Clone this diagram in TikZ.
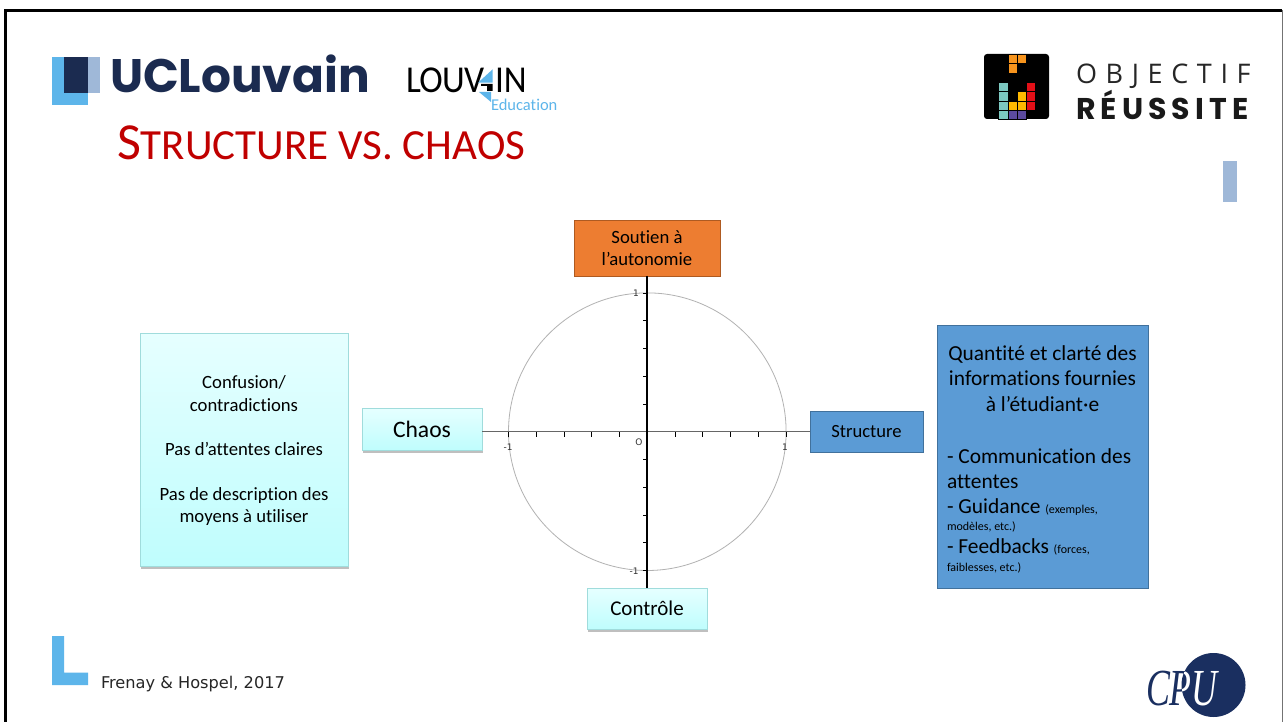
\documentclass[tikz,border=0pt]{standalone}
\usepackage{fontspec}
\setmainfont{Carlito}[Ligatures={NoCommon}]
\newfontfamily\popfont{Poppins}
\newfontfamily\verdfont{DejaVu Sans}
\newfontfamily\serifit{Liberation Serif}
\newfontfamily\objlight[LetterSpace=32]{Open Sans}
\newfontfamily\objbold[LetterSpace=17]{Poppins}
\usetikzlibrary{shadows,calc}
\definecolor{navy}{HTML}{1B2B50}
\definecolor{cpunavy}{HTML}{1A2F60}
\definecolor{skyb}{HTML}{5DB5EA}
\definecolor{paleb}{HTML}{9FB8D8}
\definecolor{titlered}{HTML}{C00000}
\definecolor{orangeb}{HTML}{ED7D31}
\definecolor{oranged}{HTML}{AE5A21}
\definecolor{blueb}{HTML}{5B9BD5}
\definecolor{blued}{HTML}{41719C}
\definecolor{cyand}{HTML}{A0DCDC}
\definecolor{cyantop}{HTML}{E6FFFF}
\definecolor{cyanbot}{HTML}{BFFDFD}
\newcommand{\fs}[2]{\fontsize{#1}{#2}\selectfont}
\tikzset{
  every node/.style={inner sep=0pt,outer sep=0pt},
  box/.style={draw,line width=0.9pt,minimum width=#1,anchor=north west,align=center},
  cyanbox/.style={box=#1,draw=cyand,top color=cyantop,bottom color=cyanbot,
    drop shadow={shadow xshift=1pt,shadow yshift=-2.5pt,fill=black,opacity=.25}},
  bluebox/.style={box=#1,draw=blued,fill=blueb},
  orbox/.style={box=#1,draw=oranged,fill=orangeb},
  tick/.style={black,line width=0.8pt},
  lab/.style={font=\verdfont\fs{9}{9},text=black!80},
  cell/.style={draw=black,line width=0.35pt},
  cpu/.style={anchor=base west,font=\serifit\itshape\fs{52}{52},xscale=0.69}
}
\begin{document}
\begin{tikzpicture}[x=1pt,y=-1pt]
\useasboundingbox (0,0) rectangle (1283,722);
\fill[white] (0,0) rectangle (1283,722);
% frame
\draw[black,line width=2.5pt] (5.5,722) -- (5.5,10.5) -- (1282,10.5);
\draw[black!55,line width=1pt] (1282,10.5) -- (1282,722);
% UCLouvain logo
\fill[skyb] (52,57) rectangle (88,105);
\fill[paleb] (64,57) rectangle (100,93);
\fill[navy] (64,57) rectangle (88,93);
\node[anchor=base west,text=navy,font=\popfont\bfseries\fs{47}{47}] (ucl) at (110,93) {UCLouvain};
% Louvain Education logo
\node[anchor=base west,font=\fs{38}{38}\addfontfeature{LetterSpace=-2},xscale=.93] (lou) at (406,93) {LOUV};
\fill[skyb] (478,82.7) -- (492.7,69.3) -- (492.7,82.7) -- cycle;
\fill[black] (481,84) -- (492.7,84) -- (492.7,91) -- (487,91) -- (487,86) -- (481,86) -- cycle;
\fill[skyb] (479,92) -- (491,92) -- (491,102) -- cycle;
\node[anchor=base west,font=\fs{38}{38},xscale=.93] (in) at (495,93) {IN};
\node[anchor=base west,text=skyb,font=\fs{16.5}{16.5}] (edu) at (491,110.5) {Education};
% title
\node[anchor=base west,text=titlered,font=\fs{52}{52}] (title) at (117,160) {S\fs{43}{43}TRUCTURE VS. CHAOS};
% Objectif reussite logo
\fill[black,rounded corners=3pt] (984,54) rectangle (1049,119);
\foreach \x/\y/\c in {1007.7/54.3/F7941D,1016.9/54.3/F7941D,1007.7/63.5/F7941D,
  998.5/82.3/7CC8C0,998.5/91.5/7CC8C0,998.5/100.7/7CC8C0,998.5/109.9/7CC8C0,
  1007.7/100.7/FFB900,1016.9/91.5/FFB900,1016.9/100.7/FFB900,
  1026.1/82.3/E30F17,1026.1/91.5/E30F17,1026.1/100.7/E30F17,
  1007.7/109.9/5B4A9E,1016.9/109.9/5B4A9E}{
  \definecolor{cellc}{HTML}{\c}
  \filldraw[cell,fill=cellc] (\x,\y) rectangle ++(9.2,9.2);
}
\node[anchor=base west,text=black!85,font=\objlight\fs{27}{27}] (obj) at (1076,84) {OBJECTIF};
\node[anchor=base west,text=black!90,font=\objbold\bfseries\fs{30}{30}] (reu) at (1076,119.5) {RÉUSSITE};
\fill[paleb] (1223.3,161) rectangle (1237,202.3);
% boxes
\node[orbox=146pt,minimum height=56pt,font=\fs{18.7}{22.5}] (soutien) at (574,220) {Soutien à\\l’autonomie};
\node[cyanbox=120pt,minimum height=42pt,font=\fs{23.6}{23.6}] (chaos) at (362,408) {Chaos};
\node[cyanbox=120pt,minimum height=41pt,font=\fs{21}{21}] (controle) at (587,588) {Contrôle};
\node[bluebox=113pt,minimum height=41pt,font=\fs{18.6}{18.6}] (structure) at (810,411) {Structure};
\node[cyanbox=208pt,minimum height=233pt] (left) at (140,333) {};
\node[bluebox=211pt,minimum height=263pt] (right) at (937,325) {};
\node[font=\fs{18.7}{22.5},align=center,anchor=center] (lefttext) at (244,451)
  {Confusion/\\contradictions\\[22pt]Pas d’attentes claires\\[22pt]Pas de description des\\moyens à utiliser};
\node[font=\fs{21.4}{25.5},align=center,anchor=center] (righttitle) at (1042.5,378.5)
  {Quantité et clarté des\\informations fournies\\à l’étudiant·e};
\node[font=\fs{21.4}{25},align=left,anchor=north west] (rightlist) at (947,448.5)
  {- Communication des\\attentes\\- Guidance {\fs{12}{12}(exemples,}\\[-7.5pt]{\fs{12}{18}modèles, etc.)}\\[-2.5pt]- Feedbacks {\fs{12}{12}(forces,}\\[-7pt]{\fs{12}{18}faiblesses, etc.)}};
% chart
\coordinate (O) at (647.3,431.7);
\draw[black!30,line width=0.8pt] (O) circle (138.8);
\foreach \i in {-5,...,5}{
  \ifnum\i=0\else
    \draw[tick] ($(O)+(\i*27.76,0)$) -- ++(0,5);
    \draw[tick] ($(O)+(0,\i*27.76)$) -- ++(-4,0);
  \fi}
\draw[black!60,line width=1.5pt] (chaos.east |- O) -- (structure.west |- O);
\draw[black,line width=1.1pt] (soutien.south) -- (controle.north);
\node[lab] (xm) at (508,447) {-1};
\node[lab] (xp) at (785,447) {1};
\node[lab] (yp) at (636,293) {1};
\node[lab] (ym) at (634,571) {-1};
\node[lab] (zero) at (639,442) {O};
% footer
\fill[skyb] (52,636) -- (64,636) -- (64,672.5) -- (88,672.5) -- (88,685) -- (52,685) -- cycle;
\node[anchor=base west,text=black!85,font=\verdfont\fs{16.2}{16.2}] (cite) at (101,688) {Frenay \& Hospel, 2017};
% CPU logo
\fill[cpunavy] (1213.5,685) circle (32);
\node[cpu,text=cpunavy] (cpua) at (1146,705) {CPU};
\begin{scope}
  \clip (1213.5,685) circle (32);
  \node[cpu,text=white] (cpub) at (1146,705) {CPU};
\end{scope}
\end{tikzpicture}
\end{document}
